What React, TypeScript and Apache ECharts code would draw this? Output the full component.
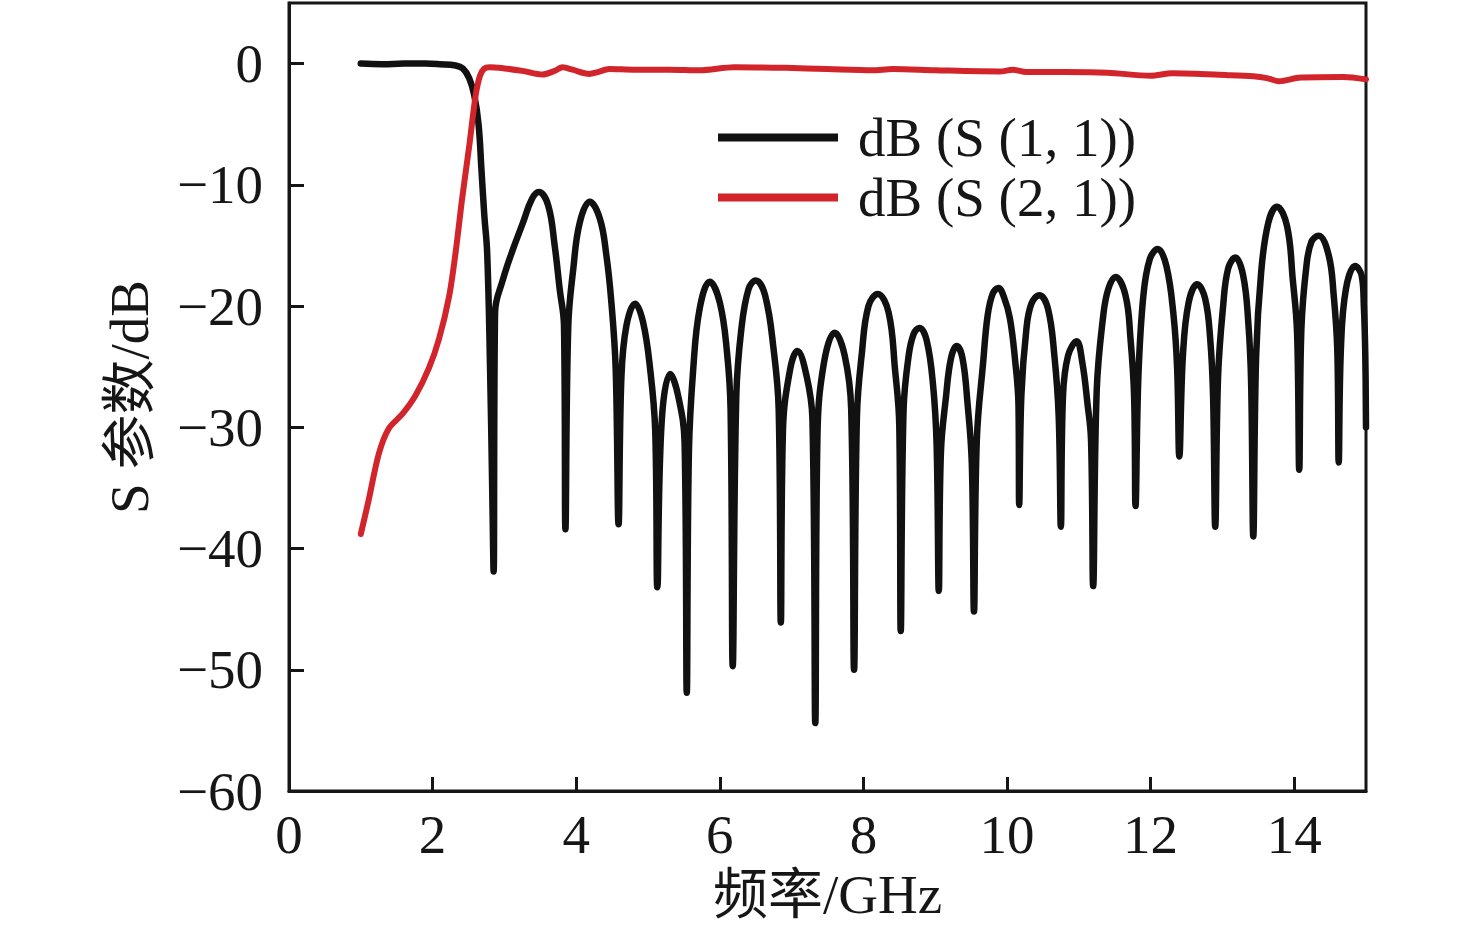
import React, { useEffect, useRef } from "react";
import * as echarts from "echarts";

// S(1,1) in dB
const s11Freq = [
  1.0, 1.3, 1.6, 1.9, 2.1, 2.32, 2.42, 2.51, 2.58, 2.64, 2.68, 2.72, 2.76, 2.8, 2.83, 2.85,
  2.87, 2.98, 3.12, 3.26, 3.38, 3.48, 3.61, 3.7, 3.77, 3.83, 3.85,
  3.89, 3.96, 4.05, 4.19, 4.33, 4.42, 4.49, 4.55, 4.59,
  4.63, 4.7, 4.82, 4.93, 5.03, 5.1, 5.13,
  5.19, 5.31, 5.42, 5.51, 5.54,
  5.57, 5.63, 5.72, 5.86, 6.0, 6.1, 6.15, 6.18,
  6.23, 6.3, 6.4, 6.5, 6.63, 6.75, 6.82, 6.85,
  6.88, 6.98, 7.08, 7.21, 7.29, 7.33,
  7.36, 7.45, 7.6, 7.74, 7.83, 7.87,
  7.91, 7.98, 8.07, 8.2, 8.35, 8.44, 8.5, 8.52,
  8.56, 8.63, 8.7, 8.78, 8.88, 8.97, 9.02, 9.05,
  9.08, 9.15, 9.22, 9.3, 9.38, 9.45, 9.51, 9.54,
  9.58, 9.67, 9.73, 9.8, 9.88, 9.96, 10.04, 10.11, 10.16, 10.17,
  10.2, 10.27, 10.34, 10.45, 10.57, 10.66, 10.72, 10.75,
  10.78, 10.85, 10.97, 11.05, 11.12, 11.17, 11.2,
  11.25, 11.34, 11.41, 11.51, 11.65, 11.72, 11.77, 11.79,
  11.83, 11.9, 11.99, 12.1, 12.22, 12.32, 12.37, 12.4,
  12.45, 12.53, 12.65, 12.76, 12.83, 12.87, 12.9,
  12.94, 13.01, 13.08, 13.18, 13.29, 13.36, 13.4, 13.43,
  13.47, 13.54, 13.64, 13.76, 13.9, 13.98, 14.04, 14.07,
  14.1, 14.17, 14.24, 14.34, 14.48, 14.55, 14.6, 14.62,
  14.65, 14.72, 14.85, 14.94, 14.97, 14.99, 15.0,
];
const s11Db = [
  0, -0.05, 0, 0, -0.05, -0.15, -0.4, -1.2, -2.6, -5.0, -8.7, -12.5, -15.6, -25, -35, -41.9,
  -20.5, -17.8, -15.3, -13.1, -11.2, -10.6, -11.7, -15.0, -18.6, -21.6, -38.4,
  -21.6, -16.9, -13.1, -11.4, -12.8, -15.8, -19.7, -25.2, -38.0,
  -25.8, -21.6, -19.8, -21.3, -25.2, -30.2, -43.2,
  -29.6, -25.6, -27.4, -31.3, -51.9,
  -32.0, -25.2, -20.2, -18.0, -19.7, -23.8, -28.5, -49.7,
  -27.4, -21.9, -18.6, -17.9, -19.1, -23.6, -28.5, -46.1,
  -30.2, -25.2, -23.7, -25.8, -29.3, -54.4,
  -30.7, -24.7, -22.2, -24.1, -28.5, -50.0,
  -29.1, -23.8, -20.0, -19.0, -20.5, -25.2, -29.9, -46.8,
  -28.5, -24.1, -22.3, -21.8, -22.8, -26.5, -31.5, -43.5,
  -32.0, -27.5, -24.3, -23.3, -24.3, -28.0, -33.0, -45.2,
  -31.0, -24.5, -20.8, -19.0, -18.5, -19.3, -21.0, -24.3, -28.2, -36.4,
  -27.4, -21.9, -19.8, -19.1, -20.2, -24.1, -29.1, -38.2,
  -27.4, -24.1, -22.9, -24.7, -28.0, -31.0, -43.1,
  -26.9, -20.8, -18.6, -17.6, -19.1, -22.7, -27.4, -36.5,
  -25.8, -19.1, -16.1, -15.3, -16.7, -20.8, -25.2, -32.4,
  -24.1, -19.7, -18.2, -19.4, -22.7, -27.4, -38.2,
  -25.8, -20.0, -16.9, -16.0, -17.5, -21.3, -26.3, -39.0,
  -24.1, -17.2, -13.1, -11.8, -13.4, -17.8, -22.2, -33.5,
  -21.9, -16.7, -14.7, -14.2, -15.8, -19.1, -23.6, -32.9,
  -23.6, -18.6, -16.7, -17.5, -20.0, -24.0, -30.0,
];

// S(2,1) in dB
const s21Freq = [
  1.0, 1.11, 1.25, 1.39, 1.58, 1.76, 1.95, 2.09, 2.23, 2.32, 2.41, 2.51, 2.6, 2.66, 2.72, 2.79,
  3.0, 3.25, 3.53, 3.7, 3.81, 3.95, 4.18, 4.3, 4.46, 4.8, 5.3, 5.72, 6.2, 6.92, 7.5, 8.12,
  8.41, 9.0, 9.9, 10.08, 10.27, 10.8, 11.4, 12.0, 12.3, 13.08, 13.43, 13.62, 13.79, 14.09,
  14.69, 15.0,
];
const s21Db = [
  -38.8, -36.0, -32.2, -30.1, -28.9, -27.4, -25.1, -22.7, -19.2, -15.6, -11.2, -6.8, -2.6, -1.0, -0.4, -0.3,
  -0.4, -0.6, -0.9, -0.6, -0.3, -0.5, -0.85, -0.7, -0.45, -0.5, -0.5, -0.55, -0.3, -0.35, -0.45, -0.55,
  -0.45, -0.55, -0.65, -0.5, -0.7, -0.7, -0.75, -1.0, -0.8, -0.95, -1.05, -1.2, -1.45, -1.15,
  -1.1, -1.3,
];

const seriesNames = ["dB (S (1, 1))", "dB (S (2, 1))"];
const xAxisName = "频率/GHz";
const yAxisName = "S 参数/dB";

const zip = (xs: number[], ys: number[]) => xs.map((x, i) => [x, ys[i]]);

const FONT = "'Liberation Serif', 'Noto Sans CJK SC', serif";
const INK = "#161616";
const FS = 55;

export default function App() {
  const ref = useRef<HTMLDivElement>(null);
  useEffect(() => {
    if (!ref.current) return;
    const chart = echarts.init(ref.current, undefined, { renderer: "svg" });
    chart.setOption({
      animation: false,
      backgroundColor: "#ffffff",
      grid: {
        left: 289,
        right: 110,
        top: 3,
        bottom: 147,
        show: true,
        borderColor: INK,
        borderWidth: 3,
      },
      legend: {
        orient: "vertical",
        left: 718,
        top: 110,
        padding: 0,
        itemWidth: 120,
        itemHeight: 8,
        itemGap: 5,
        icon: "rect",
        data: seriesNames,
        textStyle: {
          fontFamily: FONT,
          fontSize: FS,
          lineHeight: 55,
          color: INK,
          padding: [0, 0, 0, 15],
        },
      },
      xAxis: {
        type: "value",
        min: 0,
        max: 15,
        interval: 2,
        name: xAxisName,
        nameLocation: "middle",
        nameGap: 76,
        nameTextStyle: { fontFamily: FONT, fontSize: FS, color: INK, verticalAlign: "top" },
        axisLine: { show: true, onZero: false, lineStyle: { color: INK, width: 3 } },
        axisTick: { show: true, inside: true, length: 14, lineStyle: { color: INK, width: 3 } },
        axisLabel: {
          margin: 16,
          showMaxLabel: false,
          fontFamily: FONT,
          fontSize: FS,
          color: INK,
        },
        splitLine: { show: false },
      },
      yAxis: {
        type: "value",
        min: -60,
        max: 5,
        interval: 10,
        name: yAxisName,
        nameLocation: "middle",
        nameGap: 132,
        nameTextStyle: { fontFamily: FONT, fontSize: FS, color: INK },
        axisLine: { show: true, onZero: false, lineStyle: { color: INK, width: 3 } },
        axisTick: { show: true, inside: true, length: 15, lineStyle: { color: INK, width: 3 } },
        axisLabel: {
          margin: 26,
          showMaxLabel: false,
          fontFamily: FONT,
          fontSize: FS,
          color: INK,
          formatter: (v: number) => (v < 0 ? "\u2212" + Math.abs(v) : String(v)),
        },
        splitLine: { show: false },
      },
      series: [
        {
          name: seriesNames[0],
          type: "line",
          data: zip(s11Freq, s11Db),
          showSymbol: false,
          symbol: "none",
          smooth: 0.4,
          lineStyle: { color: "#111111", width: 6.5, join: "round", cap: "round" },
          itemStyle: { color: "#111111" },
        },
        {
          name: seriesNames[1],
          type: "line",
          data: zip(s21Freq, s21Db),
          showSymbol: false,
          symbol: "none",
          smooth: 0.3,
          lineStyle: { color: "#d2242b", width: 6, join: "round", cap: "round" },
          itemStyle: { color: "#d2242b" },
        },
      ],
    });
    return () => chart.dispose();
  }, []);
  return (
    <div
      ref={ref}
      style={{ position: "absolute", left: 0, top: 0, width: 1476, height: 938, background: "#fff" }}
    />
  );
}
